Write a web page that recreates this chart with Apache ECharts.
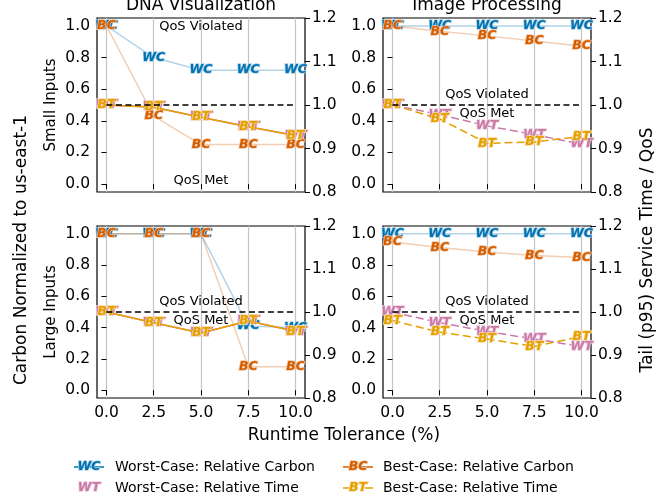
<!DOCTYPE html>
<html>
<head>
<meta charset="utf-8">
<script src="https://cdn.jsdelivr.net/npm/echarts@6/dist/echarts.min.js"></script>
<style>
  html, body { margin: 0; padding: 0; background: #fff; }
  #chart { width: 672px; height: 500px; }
</style>
</head>
<body>
<div id="chart"></div>
<script>
// runtime tolerance (%) on x
var tolerance = [0, 2.5, 5, 7.5, 10];
var carbonTicks = [0, 0.2, 0.4, 0.6, 0.8, 1.0];

// DNA Visualization, small inputs
var dnaSmallWC = [1.0, 0.80, 0.72, 0.72, 0.72];
var dnaSmallBC = [1.0, 0.43, 0.25, 0.25, 0.25];
var dnaSmallWT = [1.0, 0.995, 0.972, 0.950, 0.930];
var dnaSmallBT = [1.0, 0.995, 0.972, 0.950, 0.930];

// Image Processing, small inputs
var imgSmallWC = [1.0, 1.0, 1.0, 1.0, 1.0];
var imgSmallBC = [1.0, 0.966, 0.937, 0.905, 0.872];
var imgSmallWT = [1.0, 0.978, 0.952, 0.932, 0.910];
var imgSmallBT = [1.0, 0.968, 0.912, 0.915, 0.928];

// DNA Visualization, large inputs
var dnaLargeWC = [1.0, 1.0, 1.0, 0.41, 0.40];
var dnaLargeBC = [1.0, 1.0, 1.0, 0.15, 0.15];
var dnaLargeWT = [1.0, 0.975, 0.951, 0.979, 0.955];
var dnaLargeBT = [1.0, 0.975, 0.951, 0.979, 0.955];

// Image Processing, large inputs
var imgLargeWC = [1.0, 1.0, 1.0, 1.0, 1.0];
var imgLargeBC = [0.947, 0.913, 0.883, 0.862, 0.849];
var imgLargeWT = [1.0, 0.975, 0.955, 0.937, 0.920];
var imgLargeBT = [0.980, 0.953, 0.937, 0.920, 0.943];

var qosLine = [1.0, 1.0];

var FONT = 'DejaVu Sans';
var C_WC = '#0072B2', C_BC = '#D55E00', C_WT = '#CC79A7', C_BT = '#E69F00';
// light halo round each text marker
var HALO = { WC: '#a9d0e6', BC: '#f3c4a3', WT: '#ecd0e0', BT: '#f6dca3' };

var grids = [
  { left: 97, top: 18, width: 208, height: 174 },
  { left: 383, top: 18, width: 208, height: 174 },
  { left: 97, top: 226, width: 208, height: 172 },
  { left: 383, top: 226, width: 208, height: 172 }
];

function pairs(vals) {
  return tolerance.map(function (x, k) { return [x, vals[k]]; });
}

function markerSeries(gi, right, vals, txt, color, lineOpacity, dashed, z) {
  return {
    type: 'line',
    xAxisIndex: gi,
    yAxisIndex: gi * 2 + (right ? 1 : 0),
    data: pairs(vals),
    symbol: 'circle',
    symbolSize: 1,
    itemStyle: { color: 'rgba(0,0,0,0)' },
    lineStyle: { color: color, width: 1.5, opacity: lineOpacity, type: dashed ? [8, 4] : 'solid' },
    label: {
      show: true, position: 'inside', formatter: txt, color: color,
      fontFamily: FONT, fontStyle: 'italic', fontWeight: 'bold', fontSize: 12.5,
      textBorderColor: HALO[txt], textBorderWidth: 1.5
    },
    emphasis: { disabled: true },
    silent: true,
    animation: false,
    z: z
  };
}

function panel(gi, wc, bc, wt, bt, dashed) {
  return [
    markerSeries(gi, false, wc, 'WC', C_WC, 0.3, false, 2),
    markerSeries(gi, true, wt, 'WT', C_WT, 1, dashed, 3),
    markerSeries(gi, false, bc, 'BC', C_BC, 0.3, false, 4),
    markerSeries(gi, true, bt, 'BT', C_BT, 1, dashed, 5),
    {
      type: 'line',
      xAxisIndex: gi,
      yAxisIndex: gi * 2 + 1,
      data: [[0, qosLine[0]], [10, qosLine[1]]],
      symbol: 'none',
      lineStyle: { color: '#000', width: 1.5, type: [6, 3.5] },
      silent: true,
      animation: false,
      z: 6
    }
  ];
}

var xAxes = [], yAxes = [];
for (var i = 0; i < 4; i++) {
  xAxes.push({
    type: 'value', gridIndex: i, min: -0.5, max: 10.5,
    axisLine: { show: false },
    axisTick: { show: true, customValues: tolerance, length: 5, lineStyle: { color: '#000' } },
    axisLabel: {
      show: i >= 2, customValues: tolerance, margin: 7,
      formatter: function (v) { return v.toFixed(1); },
      fontFamily: FONT, fontSize: 15.5, color: '#000'
    },
    splitLine: { show: true, customValues: tolerance, lineStyle: { color: '#c4c4c4', width: 1.2 } }
  });
  yAxes.push({
    type: 'value', gridIndex: i, position: 'left', min: -0.05, max: 1.05,
    axisLine: { show: false },
    axisTick: { show: true, customValues: carbonTicks, length: 5, lineStyle: { color: '#000' } },
    axisLabel: {
      customValues: carbonTicks, margin: 7,
      formatter: function (v) { return v.toFixed(1); },
      fontFamily: FONT, fontSize: 15.5, color: '#000'
    },
    splitLine: { show: false },
    name: i === 0 ? 'Small Inputs' : (i === 2 ? 'Large Inputs' : ''),
    nameLocation: 'middle', nameRotate: 90, nameGap: 38,
    nameTextStyle: { fontFamily: FONT, fontSize: 15, color: '#000' }
  });
  yAxes.push({
    type: 'value', gridIndex: i, position: 'right', min: 0.8, max: 1.2, interval: 0.1,
    axisLine: { show: false },
    axisTick: { show: true, length: 5, lineStyle: { color: '#000' } },
    axisLabel: {
      margin: 7,
      formatter: function (v) { return v.toFixed(1); },
      fontFamily: FONT, fontSize: 15.5, color: '#000'
    },
    splitLine: { show: false }
  });
}

var series = [].concat(
  panel(0, dnaSmallWC, dnaSmallBC, dnaSmallWT, dnaSmallBT, false),
  panel(1, imgSmallWC, imgSmallBC, imgSmallWT, imgSmallBT, true),
  panel(2, dnaLargeWC, dnaLargeBC, dnaLargeWT, dnaLargeBT, false),
  panel(3, imgLargeWC, imgLargeBC, imgLargeWT, imgLargeBT, true)
);

function txt(x, y, s, size, extra) {
  var style = { text: s, x: 0, y: 0, fill: '#000', font: size + 'px "' + FONT + '"', align: 'center', verticalAlign: 'middle' };
  if (extra) for (var k in extra) style[k] = extra[k];
  return { type: 'text', x: x, y: y, style: style, z: 50 };
}

function markTxt(x, y, s, color) {
  return { type: 'text', x: x, y: y, z: 51, style: {
    text: s, fill: color, font: 'italic bold 12.5px "' + FONT + '"', align: 'center', verticalAlign: 'middle',
    stroke: HALO[s], lineWidth: 1.5
  } };
}

var graphics = [
  txt(201, 6, 'DNA Visualization', 17),
  txt(487, 6, 'Image Processing', 17),
  txt(344, 436, 'Runtime Tolerance (%)', 17),
  { type: 'text', x: 22, y: 250, rotation: Math.PI / 2, z: 50,
    style: { text: 'Carbon Normalized to us-east-1', fill: '#000', font: '17px "' + FONT + '"', align: 'center', verticalAlign: 'middle' } },
  { type: 'text', x: 648, y: 250, rotation: Math.PI / 2, z: 50,
    style: { text: 'Tail (p95) Service Time / QoS', fill: '#000', font: '17px "' + FONT + '"', align: 'center', verticalAlign: 'middle' } },
  txt(201, 27, 'QoS Violated', 13), txt(201, 181, 'QoS Met', 13),
  txt(487, 95, 'QoS Violated', 13), txt(487, 114, 'QoS Met', 13),
  txt(201, 302, 'QoS Violated', 13), txt(201, 321, 'QoS Met', 13),
  txt(487, 302, 'QoS Violated', 13), txt(487, 321, 'QoS Met', 13),
  // legend
  { type: 'line', shape: { x1: 74, y1: 467, x2: 104, y2: 467 }, style: { stroke: C_WC, lineWidth: 1.5 }, z: 50 },
  markTxt(89, 467, 'WC', C_WC),
  txt(115, 467, 'Worst-Case: Relative Carbon', 14, { align: 'left' }),
  markTxt(89, 488, 'WT', C_WT),
  txt(115, 488, 'Worst-Case: Relative Time', 14, { align: 'left' }),
  { type: 'line', shape: { x1: 343, y1: 467, x2: 373, y2: 467 }, style: { stroke: C_BC, lineWidth: 1.5 }, z: 50 },
  markTxt(358, 467, 'BC', C_BC),
  txt(383, 467, 'Best-Case: Relative Carbon', 14, { align: 'left' }),
  { type: 'line', shape: { x1: 343, y1: 488, x2: 373, y2: 488 }, style: { stroke: C_BT, lineWidth: 1.5, lineDash: [8, 14] }, z: 50 },
  markTxt(358, 488, 'BT', C_BT),
  txt(383, 488, 'Best-Case: Relative Time', 14, { align: 'left' })
];

var chart = echarts.init(document.getElementById('chart'), null, { renderer: 'canvas' });
var option = {
  animation: false,
  backgroundColor: '#fff',
  grid: grids.map(function (g) {
    return { left: g.left, top: g.top, width: g.width, height: g.height, show: true, borderColor: '#000', borderWidth: 1.2, backgroundColor: 'transparent', containLabel: false };
  }),
  xAxis: xAxes,
  yAxis: yAxes,
  series: series,
  graphic: graphics
};
chart.setOption(option);
</script>
</body>
</html>
